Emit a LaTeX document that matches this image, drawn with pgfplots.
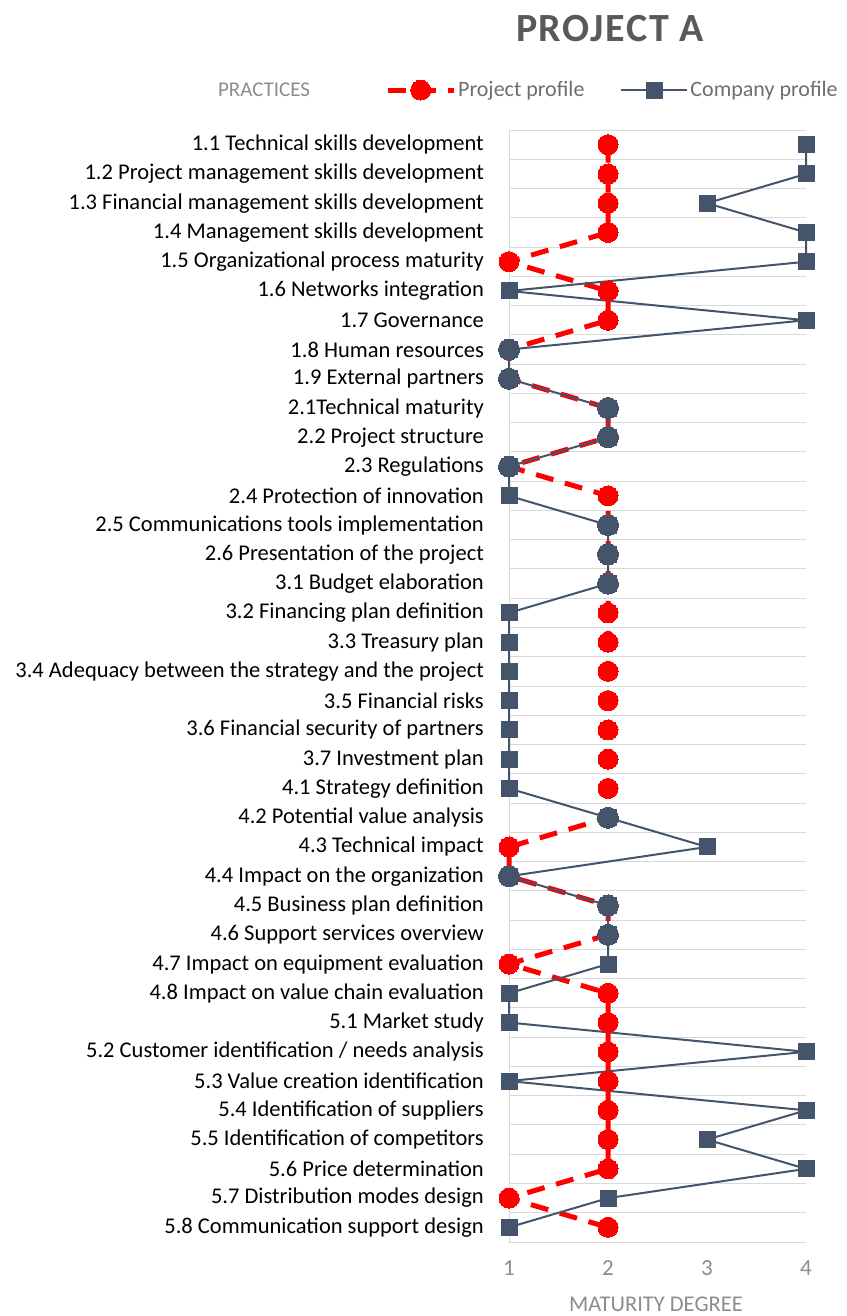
\documentclass[border=0pt]{standalone}
\usepackage{pgfplots}
\pgfplotsset{compat=1.18}
\usepackage{pgfplotstable}
\usepackage{fontspec}
\setmainfont{Carlito}
\definecolor{projred}{RGB}{255,0,0}
\definecolor{compblue}{RGB}{68,84,106}
\definecolor{gridgray}{RGB}{217,217,217}
\definecolor{txtgray}{RGB}{140,140,140}
\definecolor{legtxt}{RGB}{110,110,110}
\definecolor{titlegray}{RGB}{89,89,89}
\pgfplotstableread{
idx proj comp
0 2 4
1 2 4
2 2 3
3 2 4
4 1 4
5 2 1
6 2 4
7 1 1
8 1 1
9 2 2
10 2 2
11 1 1
12 2 1
13 2 2
14 2 2
15 2 2
16 2 1
17 2 1
18 2 1
19 2 1
20 2 1
21 2 1
22 2 1
23 2 2
24 1 3
25 1 1
26 2 2
27 2 2
28 1 2
29 2 1
30 2 1
31 2 4
32 2 1
33 2 4
34 2 3
35 2 4
36 1 2
37 2 1
}\datatable
\begin{document}
\begin{tikzpicture}
\path[use as bounding box] (0pt,0pt) rectangle (846pt,1316pt);
\begin{axis}[
  at={(509pt,74pt)}, anchor=south west,
  scale only axis, width=297pt, height=1112pt,
  xmin=1, xmax=4, ymin=-0.5, ymax=37.5, y dir=reverse,
  clip=false,
  axis line style={draw=none},
  major tick length=0pt, minor tick length=0pt,
  tick style={draw=none},
  xtick={1,2,3,4},
  /pgf/number format/assume math mode=true,
  xticklabel style={font=\fontsize{23}{26}\selectfont, text=txtgray, inner sep=0pt, anchor=base, yshift=-33pt},
  ytick={0,...,37},
  minor ytick={-0.5,0.5,...,37.5},
  yminorgrids=true,
  minor grid style={draw=gridgray, line width=1pt},
  yticklabels={
    1.1 Technical skills development,
    1.2 Project management skills development,
    1.3 Financial management skills development,
    1.4 Management skills development,
    1.5 Organizational process maturity,
    1.6 Networks integration,
    1.7 Governance,
    1.8 Human resources,
    1.9 External partners,
    2.1Technical maturity,
    2.2 Project structure,
    2.3 Regulations,
    2.4 Protection of innovation,
    2.5 Communications tools implementation,
    2.6 Presentation of the project,
    3.1 Budget elaboration,
    3.2 Financing plan definition,
    3.3 Treasury plan,
    3.4 Adequacy between the strategy and the project,
    3.5 Financial risks,
    3.6 Financial security of partners,
    3.7 Investment plan,
    4.1 Strategy definition,
    4.2 Potential value analysis,
    4.3 Technical impact,
    4.4 Impact on the organization,
    4.5 Business plan definition,
    4.6 Support services overview,
    4.7 Impact on equipment evaluation,
    4.8 Impact on value chain evaluation,
    5.1 Market study,
    5.2 Customer identification / needs analysis,
    5.3 Value creation identification,
    5.4 Identification of suppliers,
    5.5 Identification of competitors,
    5.6 Price determination,
    5.7 Distribution modes design,
    5.8 Communication support design},
  yticklabel style={font=\fontsize{22.5}{26}\selectfont, text=black, inner sep=0pt, anchor=east, xshift=-25pt},
  legend columns=2,
  legend style={at={(axis description cs:-0.4175,1.036)}, anchor=west, draw=none, fill=none,
    inner sep=0pt, font=\fontsize{22}{26}\selectfont, text=legtxt,
    /tikz/every even column/.append style={column sep=34pt}},
  legend image code/.code={\draw[mark repeat=2,mark phase=2,#1] plot coordinates {(0pt,0pt) (33pt,0pt) (66pt,0pt)};},
]
\draw[gridgray, line width=1pt] (axis cs:1,-0.5) -- (axis cs:1,37.5);
\addplot[projred, line width=5pt, dash pattern=on 18pt off 12pt, mark=*, mark size=10pt, mark options={solid, fill=projred, draw=projred, line width=0pt}]
  table[x=proj, y=idx] {\datatable};
\addlegendentry{Project profile}
\addplot[compblue, line width=2pt, mark=square*, mark size=8pt, mark options={solid, fill=compblue, draw=compblue, line width=0pt}]
  table[x=comp, y=idx] {\datatable};
\addlegendentry{Company profile}
\addplot[only marks, forget plot, mark=*, mark size=10.5pt, mark options={fill=compblue, draw=compblue, line width=0pt}]
  coordinates {(1,7) (1,8) (2,9) (2,10) (1,11) (2,13) (2,14) (2,15) (2,23) (1,25) (2,26) (2,27)};
\end{axis}
\node[font=\fontsize{40}{44}\selectfont\bfseries\addfontfeature{LetterSpace=4}, text=titlegray] at (610pt,1287pt) {PROJECT A};
\node[font=\fontsize{21}{24}\selectfont, text=txtgray] at (264pt,1226pt) {PRACTICES};
\node[font=\fontsize{22.5}{24}\selectfont, text=txtgray] at (656pt,12pt) {MATURITY DEGREE};
\end{tikzpicture}
\end{document}
